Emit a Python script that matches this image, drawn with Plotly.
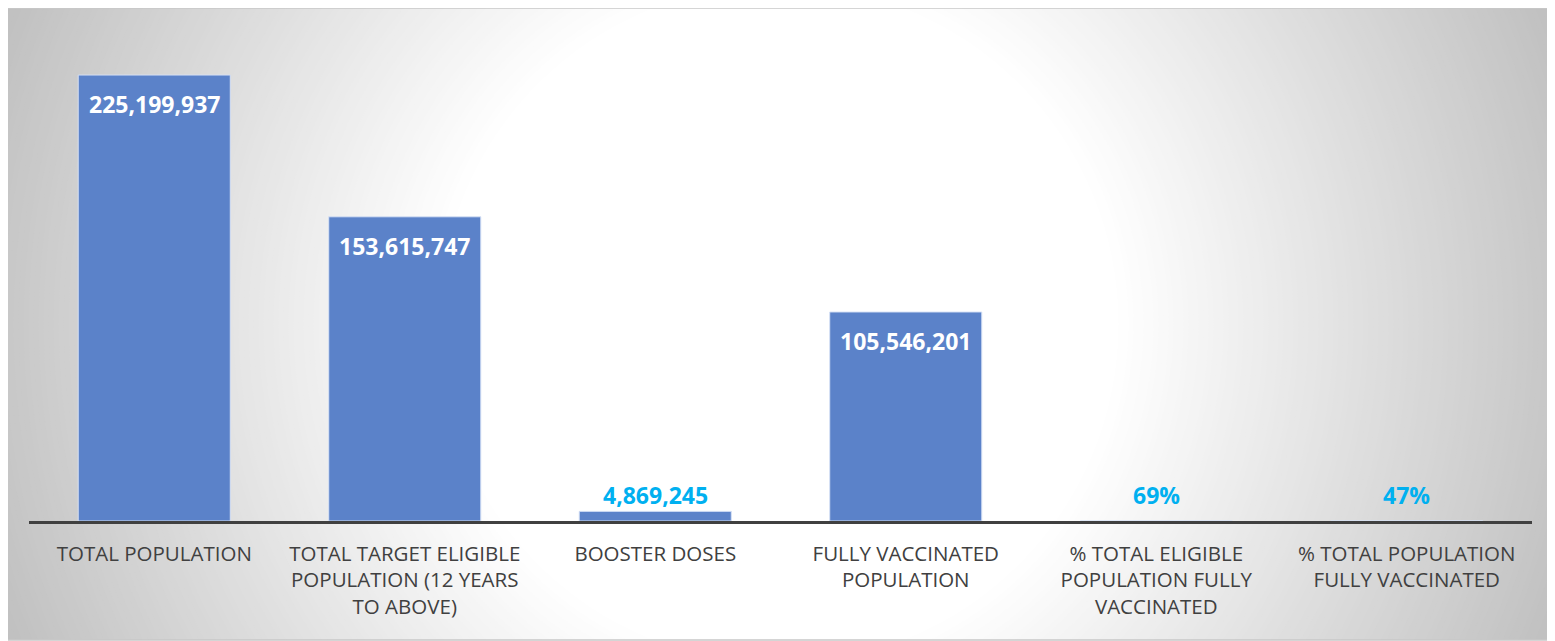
import plotly.graph_objects as go

# ---- data ----
categories = [
    "TOTAL POPULATION",
    "TOTAL TARGET ELIGIBLE<br>POPULATION (12 YEARS<br>TO ABOVE)",
    "BOOSTER DOSES",
    "FULLY VACCINATED<br>POPULATION",
    "% TOTAL ELIGIBLE<br>POPULATION FULLY<br>VACCINATED",
    "% TOTAL POPULATION<br>FULLY VACCINATED",
]
values = [225199937, 153615747, 4869245, 105546201, 0.69, 0.47]
is_percent = [False, False, False, False, True, True]

# ---- style ----
PAGE_OFF = 8                      # browser body margin
W, H = 1555 - PAGE_OFF, 641 - PAGE_OFF
ML, MR, MT, MB = 29 - PAGE_OFF, 23, 20 - PAGE_OFF, 120
PLOT_W = W - ML - MR
PLOT_H = H - MT - MB
Y_MAX = 253e6
BAR_COLOR = "#5b82c9"
INSIDE_MIN = 20e6       # bars taller than this get the label inside
LABEL_FLOOR = 5e6       # outside labels never sit lower than this
FRAME = (5 - PAGE_OFF, 8 - PAGE_OFF, 1552 - PAGE_OFF, 640 - PAGE_OFF)

def fmt(v, pct):
    return f"{v:.0%}" if pct else f"{v:,.0f}"

fig = go.Figure()
fig.add_trace(go.Bar(
    x=list(range(len(categories))),
    y=values,
    marker=dict(color=BAR_COLOR, line=dict(color="rgba(215,226,245,0.95)", width=1)),
    hoverinfo="skip",
))

annotations = []
for i, (v, p) in enumerate(zip(values, is_percent)):
    txt = fmt(v, p)
    if v >= INSIDE_MIN:
        annotations.append(dict(
            x=i, y=v, xref="x", yref="y", text=txt, showarrow=False,
            yanchor="middle", yshift=-29,
            font=dict(family="Open Sans", size=23, color="white", weight="bold"),
        ))
    else:
        annotations.append(dict(
            x=i, y=max(v, LABEL_FLOOR), xref="x", yref="y", text=txt, showarrow=False,
            yanchor="middle", yshift=16,
            font=dict(family="Open Sans", size=23, color="#00b0f0", weight="bold"),
        ))

# ---- background: radial gradient approximated with concentric circles ----
cx_px = (FRAME[0] + FRAME[2]) / 2
cy_px = (FRAME[1] + FRAME[3]) / 2
cx_paper = (cx_px - ML) / PLOT_W
cy_paper = (H - MB - cy_px) / PLOT_H

shapes = []
R_OUT, R_IN = 880, 330
r = R_OUT
while r >= R_IN:
    t = (r - 340) / (850 - 340)
    t = max(0.0, min(1.0, t))
    g = int(round(255 - t * (255 - 190)))
    col = f"rgb({g},{g},{g})"
    shapes.append(dict(
        type="circle", layer="below",
        xref="paper", yref="paper", xsizemode="pixel", ysizemode="pixel",
        xanchor=cx_paper, yanchor=cy_paper,
        x0=-r, x1=r, y0=-r, y1=r,
        fillcolor=col, line=dict(width=0),
    ))
    r -= 5

def page_rect(X0, Y0, X1, Y1, **kw):
    return dict(
        type="rect", xref="paper", yref="paper", xsizemode="pixel", ysizemode="pixel",
        xanchor=0, yanchor=0,
        x0=X0 - ML, x1=X1 - ML, y0=(H - MB) - Y1, y1=(H - MB) - Y0, **kw)

for rect in [(-30, -30, FRAME[0], H + 30), (FRAME[2], -30, W + 30, H + 30),
             (-30, -30, W + 30, FRAME[1]), (-30, FRAME[3], W + 30, H + 30)]:
    shapes.append(page_rect(*rect, layer="below", fillcolor="white", line=dict(width=0)))
shapes.append(page_rect(*FRAME, layer="below", fillcolor="rgba(0,0,0,0)",
                        line=dict(color="#c8c8c8", width=1.5)))

fig.update_layout(
    width=W, height=H,
    margin=dict(l=ML, r=MR, t=MT, b=MB, pad=0),
    paper_bgcolor="white",
    plot_bgcolor="rgba(0,0,0,0)",
    bargap=0.393,
    showlegend=False,
    shapes=shapes,
    annotations=annotations,
    xaxis=dict(
        tickmode="array", tickvals=list(range(len(categories))), ticktext=categories,
        range=[-0.5, len(categories) - 0.5],
        showline=True, linecolor="#404040", linewidth=3,
        showgrid=False, zeroline=False, ticks="",
        ticklabelstandoff=12,
        tickfont=dict(family="Open Sans", size=20.5, color="#404040"),
        fixedrange=True,
    ),
    yaxis=dict(
        range=[0, Y_MAX], visible=False, showgrid=False, zeroline=False, fixedrange=True,
    ),
)

fig.write_html("out.html")
